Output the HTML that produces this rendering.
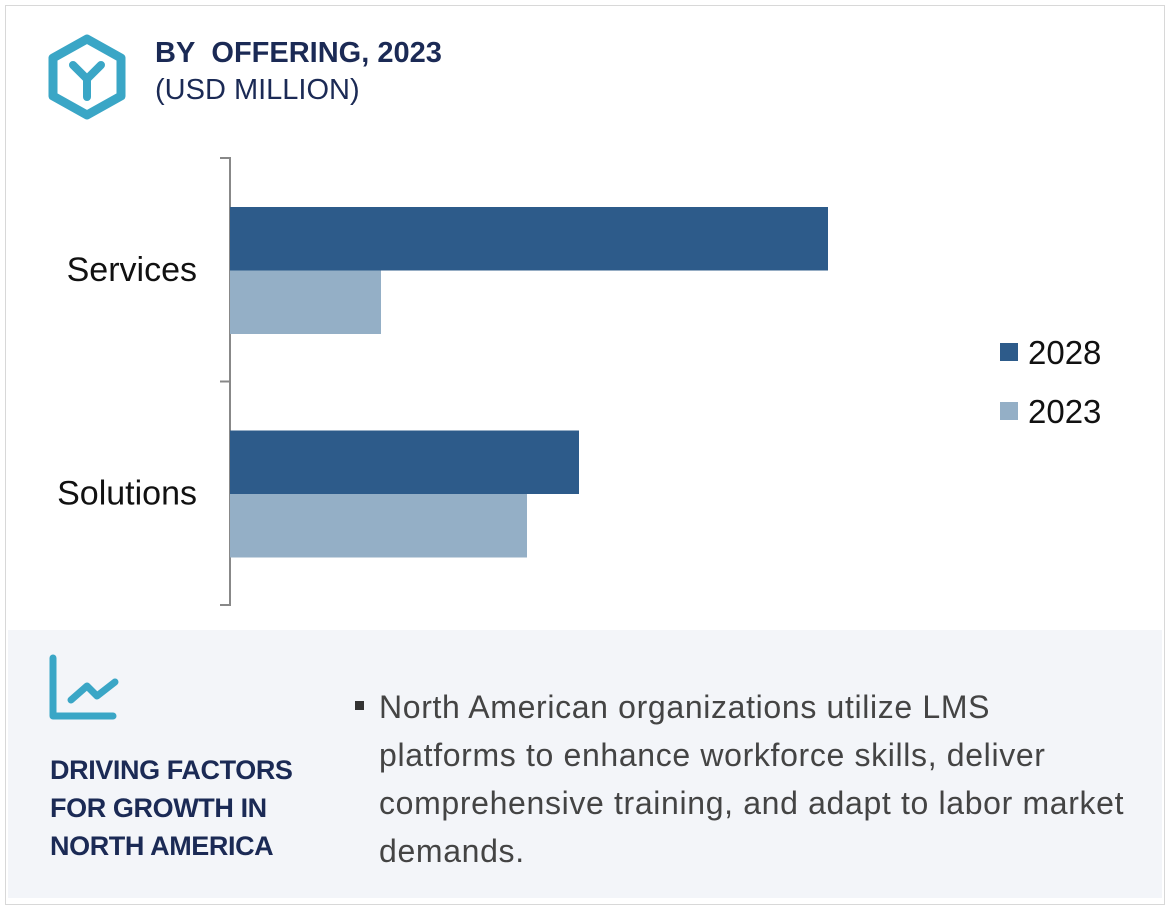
<!DOCTYPE html>
<html><head><meta charset="utf-8"><style>
body{margin:0;width:1170px;height:909px;background:#fff;font-family:"Liberation Sans",sans-serif;position:relative;overflow:hidden}
.abs{position:absolute}
</style></head><body>
<div class="abs" style="left:5px;top:5px;width:1158px;height:898px;border:1px solid #d8d8d8"></div>
<svg class="abs" style="left:45px;top:33px" width="84" height="88" viewBox="0 0 84 88">
<polygon points="42,6 76,25 76,63 42,82 8,63 8,25" fill="none" stroke="#3aa6c6" stroke-width="9" stroke-linejoin="round"/>
<path d="M28,32 L42,46 L56,32 M42,46 L42,64" fill="none" stroke="#3aa6c6" stroke-width="8" stroke-linecap="round"/>
</svg>
<div class="abs" style="left:155px;top:37px;font-size:29px;font-weight:bold;color:#1b2a55">BY&nbsp; OFFERING, 2023</div>
<div class="abs" style="left:155px;top:74px;font-size:29px;color:#1b2a55">(USD MILLION)</div>
<svg id="chart" class="abs" style="left:0;top:0" width="1170" height="630"></svg>
<div class="abs" style="left:8px;top:630px;width:1154px;height:268px;background:#f3f5f9"></div>
<svg class="abs" style="left:45px;top:650px" width="80" height="80">
<path d="M8,8 L8,66 L68,66" fill="none" stroke="#3aa6c6" stroke-width="7" stroke-linecap="round" stroke-linejoin="round"/>
<path d="M26,50 L42,36 L52,46 L70,32" fill="none" stroke="#3aa6c6" stroke-width="7" stroke-linecap="round" stroke-linejoin="round"/>
</svg>
<div class="abs" style="left:50px;top:751px;font-size:27px;line-height:38px;font-weight:bold;color:#1b2a55;letter-spacing:-0.4px">DRIVING FACTORS<br>FOR GROWTH IN<br>NORTH AMERICA</div>
<div class="abs" style="left:355px;top:701px;width:9px;height:9px;background:#333"></div>
<div class="abs" style="left:379px;top:683px;width:780px;font-size:32px;line-height:48px;color:#444;letter-spacing:0.65px">North American organizations utilize LMS<br>platforms to enhance workforce skills, deliver<br>comprehensive training, and adapt to labor market<br>demands.</div>
<script>
const categories=["Services","Solutions"];
const values2028=[1196,698];
const values2023=[302,594];
const seriesNames=["2028","2023"];
const colors=["#2d5b8a","#94afc6"];
const NS="http://www.w3.org/2000/svg";
const svg=document.getElementById('chart');
const x0=230,k=0.5;
function xs(v){return x0+v*k;}
function bandTop(i){return 158+i*223.5;}
function mk(t,a){const e=document.createElementNS(NS,t);for(const q in a)e.setAttribute(q,a[q]);svg.appendChild(e);return e;}
const ax=mk('path',{d:'M220,158 L230,158 L230,605 L220,605 M220,381.5 L230,381.5',fill:'none',stroke:'#888','stroke-width':2});


[values2028,values2023].forEach((vals,s)=>{
 vals.forEach((v,i)=>{
  const r=mk('rect',{x:x0,y:bandTop(i)+49+s*63.5,width:xs(v)-x0,height:63.5,fill:colors[s]});
  
  
 });
});
categories.forEach((c,i)=>{
 const t=mk('text',{x:197,y:bandTop(i)+123,'text-anchor':'end','font-size':34,fill:'#111'});
 t.textContent=c;
 
 
});
seriesNames.forEach((n,s)=>{
 const r=mk('rect',{x:1000,y:343+s*59,width:18,height:18,fill:colors[s]});
 
 
 const t=mk('text',{x:1028,y:364+s*59,'font-size':33,fill:'#111'});
 t.textContent=n;
 
 
});
</script>
</body></html>
